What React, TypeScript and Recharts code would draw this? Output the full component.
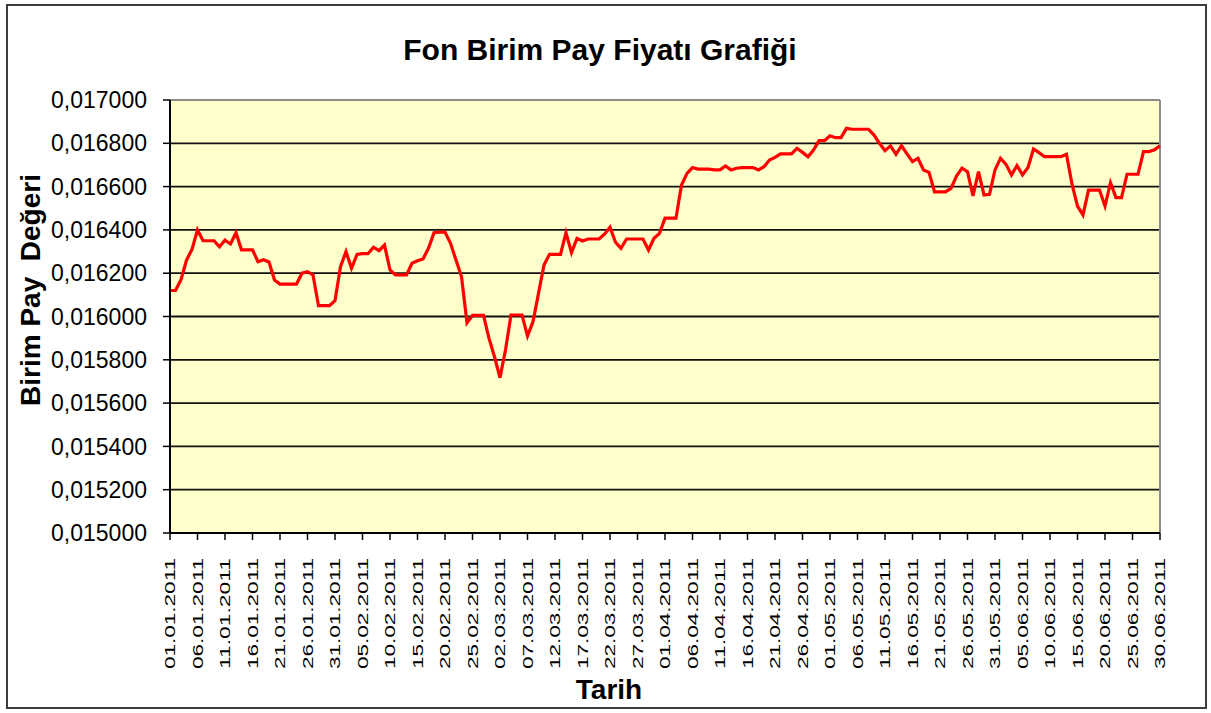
import React from 'react';
import { LineChart, Line, XAxis, YAxis, CartesianGrid, ReferenceLine } from 'recharts';

// daily unit prices, one array per month (2011)
const janValues = [
  0.016120, 0.016120, 0.016170, 0.016260, 0.016310, 0.016400, 0.016350, 0.016350, 0.016350, 0.016322,
  0.016353, 0.016335, 0.016387, 0.016308, 0.016308, 0.016308, 0.016253, 0.016262, 0.016252, 0.016169,
  0.016150, 0.016150, 0.016150, 0.016150, 0.016200, 0.016207, 0.016192, 0.016050, 0.016050, 0.016050,
  0.016073,
];
const febValues = [
  0.016230, 0.016300, 0.016223, 0.016287, 0.016290, 0.016290, 0.016320, 0.016304, 0.016330, 0.016215,
  0.016192, 0.016192, 0.016192, 0.016246, 0.016257, 0.016266, 0.016315, 0.016387, 0.016390, 0.016390,
  0.016338, 0.016261, 0.016184, 0.015971, 0.016005, 0.016005, 0.016005, 0.015899,
];
const marValues = [
  0.015814, 0.015717, 0.015845, 0.016007, 0.016007, 0.016007, 0.015910, 0.015976, 0.016107, 0.016238,
  0.016287, 0.016287, 0.016287, 0.016387, 0.016295, 0.016361, 0.016349, 0.016358, 0.016358, 0.016358,
  0.016380, 0.016412, 0.016343, 0.016315, 0.016358, 0.016358, 0.016358, 0.016358, 0.016307, 0.016361,
  0.016384,
];
const aprValues = [
  0.016454, 0.016454, 0.016454, 0.016607, 0.016661, 0.016688, 0.016681, 0.016681, 0.016681, 0.016677,
  0.016677, 0.016695, 0.016677, 0.016685, 0.016688, 0.016688, 0.016688, 0.016677, 0.016692, 0.016723,
  0.016735, 0.016751, 0.016751, 0.016751, 0.016777, 0.016758, 0.016738, 0.016769, 0.016812, 0.016812,
];
const mayValues = [
  0.016835, 0.016826, 0.016826, 0.016869, 0.016865, 0.016865, 0.016865, 0.016865, 0.016838, 0.016800,
  0.016766, 0.016788, 0.016749, 0.016789, 0.016751, 0.016715, 0.016731, 0.016677, 0.016666, 0.016576,
  0.016576, 0.016576, 0.016592, 0.016649, 0.016685, 0.016669, 0.016557, 0.016669, 0.016561, 0.016564,
  0.016677,
];
const junValues = [
  0.016731, 0.016703, 0.016654, 0.016697, 0.016654, 0.016688, 0.016774, 0.016757, 0.016738, 0.016738,
  0.016738, 0.016738, 0.016749, 0.016611, 0.016510, 0.016469, 0.016584, 0.016584, 0.016584, 0.016510,
  0.016618, 0.016549, 0.016549, 0.016657, 0.016657, 0.016657, 0.016762, 0.016762, 0.016770, 0.016789,
];

const months = ['01', '02', '03', '04', '05', '06'];
const monthValues = [janValues, febValues, marValues, aprValues, mayValues, junValues];
const yTicks = [0.015, 0.0152, 0.0154, 0.0156, 0.0158, 0.016, 0.0162, 0.0164, 0.0166, 0.0168, 0.017];

const data = monthValues.flatMap((vals, m) =>
  vals.map((v, i) => ({
    date: `${String(i + 1).padStart(2, '0')}.${months[m]}.2011`,
    value: v,
  }))
);

const FONT = "Arial, 'Liberation Sans', sans-serif";

const XTick = (props: any) => {
  const { x, y, payload } = props;
  return (
    <text
      x={x}
      y={y}
      transform={`rotate(-90 ${x} ${y})`}
      textAnchor="end"
      dy="0.36em"
      fontSize={14}
      fontFamily={FONT}
      fill="#000"
      textLength={111}
      lengthAdjust="spacingAndGlyphs"
    >
      {payload.value}
    </text>
  );
};

export default function App() {
  return (
    <div style={{ position: 'absolute', left: 0, top: 0, width: 1211, height: 713, background: '#fff', fontFamily: FONT }}>
      <div style={{ position: 'absolute', left: 6, top: 4, width: 1197, height: 701, border: '2px solid #3c3c3c' }} />
      <div style={{ position: 'absolute', left: 0, top: 33, width: 1200, textAlign: 'center', fontSize: 30, fontWeight: 'bold', color: '#000' }}>
        Fon Birim Pay Fiyatı Grafiği
      </div>
      <div style={{
        position: 'absolute', left: 31, top: 290, fontSize: 28, fontWeight: 'bold', whiteSpace: 'pre',
        transform: 'translate(-50%, -50%) rotate(-90deg)', color: '#000',
      }}>
        Birim Pay  Değeri
      </div>
      <div style={{ position: 'absolute', left: 609, top: 690, fontSize: 28, fontWeight: 'bold', transform: 'translate(-50%, -50%)', color: '#000' }}>
        Tarih
      </div>
      <div style={{ position: 'absolute', left: 0, top: 0 }}>
        <LineChart width={1211} height={713} data={data} margin={{ top: 100, right: 51, bottom: 150, left: 0 }}>
          <CartesianGrid vertical={false} fill="#FFFFCC" stroke="#111" strokeWidth={1.8} />
          <XAxis
            dataKey="date"
            height={30}
            interval={4}
            tick={<XTick />}
            tickSize={7}
            tickMargin={18}
            axisLine={{ stroke: '#000', strokeWidth: 2 }}
            tickLine={{ stroke: '#000', strokeWidth: 1.5 }}
          />
          <YAxis
            width={170}
            domain={[0.015, 0.017]}
            ticks={yTicks}
            interval={0}
            tickFormatter={(v: number) => v.toFixed(6).replace('.', ',')}
            tick={{ fontSize: 23, fill: '#000', fontFamily: FONT }}
            tickSize={7}
            tickMargin={16}
            axisLine={{ stroke: '#000', strokeWidth: 2 }}
            tickLine={{ stroke: '#000', strokeWidth: 1.5 }}
          />
          <ReferenceLine y={0.017} stroke="#8c8c8c" strokeWidth={2} />
          <ReferenceLine x="30.06.2011" stroke="#8c8c8c" strokeWidth={2} />
          <Line
            type="linear"
            dataKey="value"
            stroke="#ff0000"
            strokeWidth={3.2}
            dot={false}
            isAnimationActive={false}
          />
        </LineChart>
      </div>
    </div>
  );
}
